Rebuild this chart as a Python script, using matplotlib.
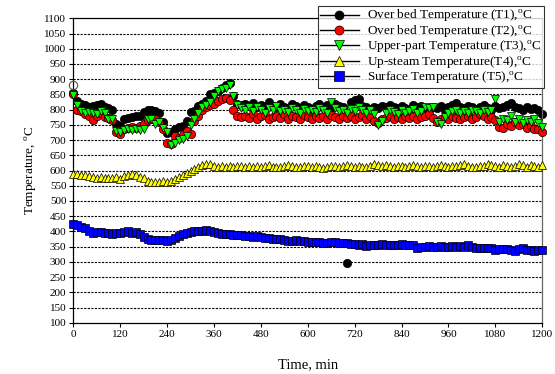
import numpy as np
import matplotlib
matplotlib.use("Agg")
import matplotlib.pyplot as plt
from matplotlib.lines import Line2D

plt.rcParams['font.family'] = ['Liberation Serif', 'DejaVu Serif']
plt.rcParams['mathtext.fontset'] = 'custom'
plt.rcParams['mathtext.rm'] = 'Liberation Serif'

time_min = list(range(0, 1201, 10))

t1 = [855, 830, 820, 815, 808, 812, 815, 818, 808, 805, 800, 752, 745, 770, 772, 775, 778, 778, 792, 798,
      800, 795, 788, 758, 722, 725, 738, 742, 745, 762, 792, 795, 812, 818, 830, 850, 855, 862, 872, 880,
      887, 845, 820, 815, 818, 812, 822, 810, 815, 808, 825, 812, 808, 818, 810, 805, 820, 812, 806, 815,
      810, 802, 812, 818, 808, 815, 805, 820, 812, 808, 296, 825, 832, 835, 812, 808, 802, 810, 805, 812,
      808, 816, 810, 804, 812, 806, 800, 814, 808, 812, 805, 800, 810, 806, 812, 800, 808, 815, 822, 810,
      805, 812, 808, 802, 810, 815, 806, 800, 812, 804, 808, 815, 822, 810, 805, 800, 808, 802, 806, 800,
      785]
t2 = [850, 800, 795, 785, 778, 765, 780, 790, 775, 772, 765, 725, 720, 738, 740, 742, 740, 745, 752, 765,
      770, 768, 760, 738, 690, 688, 712, 708, 718, 730, 720, 762, 778, 800, 808, 815, 820, 828, 835, 837,
      832, 800, 778, 775, 780, 772, 785, 770, 778, 782, 768, 775, 780, 772, 785, 770, 778, 775, 768, 782,
      776, 770, 780, 772, 778, 768, 782, 775, 770, 778, 772, 780, 768, 775, 782, 770, 778, 762, 755, 768,
      772, 778, 770, 776, 768, 780, 772, 778, 770, 775, 780, 785, 772, 760, 768, 775, 770, 778, 772, 768,
      775, 780, 770, 776, 785, 778, 770, 775, 765, 742, 740, 752, 745, 758, 748, 752, 740, 745, 738, 735,
      728]
t3 = [848, 815, 795, 790, 792, 790, 785, 795, 788, 770, 770, 730, 725, 732, 735, 733, 735, 732, 738, 770,
      768, 752, 760, 740, 728, 685, 690, 700, 705, 712, 750, 770, 790, 810, 815, 825, 845, 862, 868, 872,
      880, 845, 815, 805, 800, 808, 795, 810, 800, 790, 805, 798, 812, 795, 800, 792, 805, 798, 790, 802,
      795, 800, 792, 805, 798, 790, 826, 805, 795, 800, 790, 802, 796, 808, 800, 790, 798, 785, 750, 762,
      790, 800, 792, 785, 798, 790, 795, 802, 788, 796, 808, 805, 808, 760, 752, 775, 790, 795, 800, 790,
      795, 788, 800, 795, 790, 798, 792, 800, 835, 760, 770, 765, 778, 760, 770, 755, 765, 760, 768, 755,
      742]
t4 = [588, 590, 586, 585, 582, 578, 575, 578, 575, 576, 574, 578, 572, 582, 585, 588, 585, 580, 575, 565,
      562, 564, 562, 565, 562, 566, 572, 578, 585, 592, 598, 605, 612, 618, 622, 620, 615, 612, 614, 612,
      615, 612, 614, 616, 612, 615, 613, 616, 612, 614, 618, 613, 611, 612, 615, 617, 614, 610, 612, 614,
      616, 612, 615, 613, 608, 612, 616, 614, 612, 615, 618, 614, 612, 615, 610, 613, 616, 620, 618, 615,
      617, 614, 612, 616, 614, 612, 615, 617, 614, 612, 615, 616, 613, 615, 618, 614, 612, 616, 615, 618,
      620, 614, 612, 610, 614, 616, 620, 618, 616, 612, 618, 614, 610, 616, 620, 618, 612, 618, 614, 612,
      618]
t5 = [425, 420, 415, 410, 400, 396, 398, 397, 395, 394, 393, 394, 395, 398, 400, 396, 398, 392, 382, 375,
      372, 373, 371, 372, 370, 373, 380, 385, 390, 394, 398, 400, 402, 403, 404, 402, 398, 394, 392, 390,
      390, 388, 388, 387, 386, 384, 383, 384, 383, 380, 378, 376, 375, 374, 372, 370, 368, 372, 370, 368,
      366, 364, 366, 365, 362, 363, 364, 365, 363, 362, 362, 360, 358, 356, 358, 352, 356, 355, 356, 358,
      354, 356, 355, 357, 358, 354, 356, 355, 346, 348, 350, 352, 350, 348, 352, 348, 350, 352, 350, 352,
      350, 355, 348, 345, 346, 345, 344, 345, 340, 342, 341, 343, 340, 336, 342, 344, 338, 340, 336, 338,
      340]
open_pt_x = [0]
open_pt_y = [880]

labels = ["Over bed Temperature (T1),$^{\\mathrm{o}}$C",
          "Over bed Temperature (T2),$^{\\mathrm{o}}$C",
          "Upper-part Temperature (T3),$^{\\mathrm{o}}$C",
          "Up-steam Temperature(T4),$^{\\mathrm{o}}$C",
          "Surface Temperature (T5),$^{\\mathrm{o}}$C"]
colors = ['black', '#FF0000', '#00FF00', '#FFFF00', '#0000FF']
markers = ['o', 'o', 'v', '^', 's']


def main():
    fig = plt.figure(figsize=(5.55, 3.74), dpi=100)
    ax = fig.add_axes([0.132, 0.137, 0.845, 0.814])
    for y in range(150, 1100, 50):
        ax.axhline(y, color='black', lw=0.8, ls=(0, (2, 1.2)), zorder=0)

    handles = []
    series = [t1, t2, t3, t4, t5]
    for i, s in enumerate(series):
        ax.plot(time_min, s, ls='none', marker=markers[i], ms=6, mfc=colors[i],
                mec='black', mew=0.5, zorder=2 + i, clip_on=False)
        handles.append(Line2D([], [], color='black', lw=1, marker=markers[i], ms=6.5,
                              mfc=colors[i], mec='black', mew=0.5))
    ax.plot(open_pt_x, open_pt_y, ls='none', marker='o', ms=6, mfc='none',
            mec='#555555', mew=0.8, clip_on=False, zorder=8)

    ax.set_xlim(0, 1200)
    ax.set_ylim(100, 1100)
    ax.set_xticks(range(0, 1201, 120))
    ax.set_yticks(range(100, 1101, 50))
    ax.tick_params(labelsize=8, length=3, width=0.8, direction='out', pad=2)
    ax.spines['right'].set_color('#666666')
    for sp in ax.spines.values():
        sp.set_linewidth(0.9)
    ax.set_xlabel("Time, min", fontsize=10.5, labelpad=14)
    ax.set_ylabel("Temperature, $^{\\mathrm{o}}$C", fontsize=9.5, labelpad=4)

    leg = ax.legend(handles=handles, labels=labels, loc='upper right',
                    bbox_to_anchor=(1.003, 1.04), fontsize=9.5, frameon=True,
                    fancybox=False, edgecolor='black', handlelength=3,
                    labelspacing=-0.05, borderpad=0.15, handletextpad=0.6,
                    borderaxespad=0)
    leg.get_frame().set_linewidth(0.8)
    leg.set_zorder(20)
    fig.savefig("out.png", dpi=100)


if __name__ == '__main__':
    main()
